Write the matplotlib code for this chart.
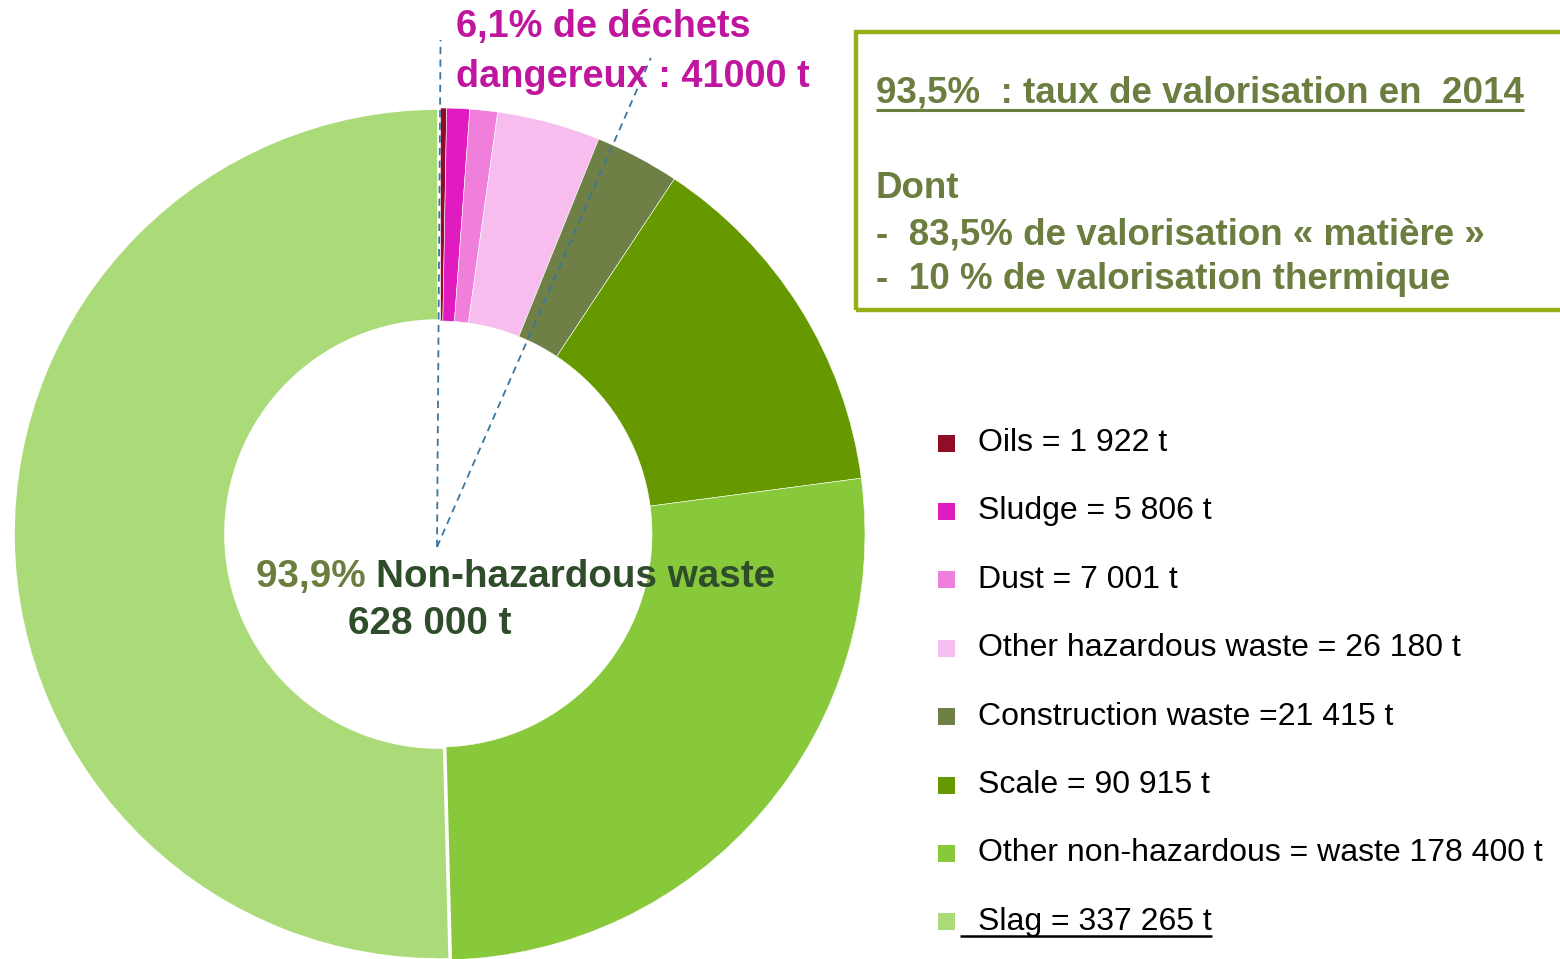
"""
Hazardous / non-hazardous waste breakdown, 2014 (donut + legend + recovery box).
Writes out.png (1560x959).
"""
import numpy as np
import matplotlib
matplotlib.use("Agg")  # headless rendering
import matplotlib.pyplot as plt
from matplotlib.patches import Rectangle

W, H = 1560, 959
FONT = "Liberation Sans"

# --- data -------------------------------------------------------------------
categories = ["Oils", "Sludge", "Dust", "Other hazardous waste",
              "Construction waste", "Scale", "Other non-hazardous waste", "Slag"]
tonnes = [1922, 5806, 7001, 26180, 21415, 90915, 178400, 337265]
legend_labels = ["Oils = 1 922 t", "Sludge = 5 806 t", "Dust = 7 001 t",
                 "Other hazardous waste = 26 180 t", "Construction waste =21 415 t",
                 "Scale = 90 915 t", "Other non-hazardous = waste 178 400 t",
                 "Slag = 337 265 t"]
colors = ["#900c27", "#e01bbf", "#f07fdc", "#f6bdee",
          "#6f8047", "#669900", "#88c93b", "#abda78"]
n_hazardous = 4

hazardous_title = ["6,1% de déchets", "dangereux : 41000 t"]
center_pct, center_label, center_tonnes = "93,9%", "Non-hazardous waste", "628 000 t"
box_lines = ["93,5%  : taux de valorisation en  2014", "Dont",
             "-  83,5% de valorisation « matière »", "-  10 % de valorisation thermique"]

MAGENTA = "#c0169f"
OLIVE = "#6b7d3f"
DARK_GREEN = "#2f4d2a"
BOX_GREEN = "#99af1a"
LEADER = "#3b76a0"


def py(y):
    """image-row (top=0) -> axes y (bottom=0)"""
    return H - y


def underline(ax, txt, color, lw=2.0, x0=None):
    fig = ax.figure
    fig.canvas.draw()
    bb = txt.get_window_extent(renderer=fig.canvas.get_renderer())
    inv = ax.transData.inverted()
    (xa, ya), (xb, _) = inv.transform([(bb.x0, bb.y0), (bb.x1, bb.y0)])
    if x0 is not None:
        xa = x0
    ax.plot([xa, xb], [ya + 1, ya + 1], color=color, lw=lw, solid_capstyle="butt")


def main():
    fig = plt.figure(figsize=(W / 100, H / 100), dpi=100)
    ax = fig.add_axes([0, 0, 1, 1])

    center = (439, py(534))
    radius = 426
    wedges, _ = ax.pie(tonnes, colors=colors, startangle=90, counterclock=False,
                       center=center, radius=radius,
                       wedgeprops=dict(width=radius * 0.5, edgecolor="white", linewidth=0.4))
    wedges[-1].set_linewidth(2.6)

    ax.set_xlim(0, W)
    ax.set_ylim(0, H)
    ax.set_aspect("equal")
    ax.axis("off")

    # leader lines bounding the hazardous share
    haz_share = sum(tonnes[:n_hazardous]) / sum(tonnes)
    origin = np.array([437.0, py(547)])
    for ang_deg, top in [(0.4, 40), (360 * haz_share + 1.6, 58)]:
        a = np.radians(ang_deg)
        length = (py(top) - origin[1]) / np.cos(a)
        end = origin + length * np.array([np.sin(a), np.cos(a)])
        ax.plot([origin[0], end[0]], [origin[1], end[1]], color=LEADER,
                lw=1.3, ls=(0, (4, 3)))

    # hazardous title
    for line, base in zip(hazardous_title, [37, 87]):
        ax.text(456, py(base), line, color=MAGENTA, fontsize=27.3, fontweight="bold",
                family=FONT, va="baseline", ha="left")

    # centre label
    t1 = ax.text(256, py(587), center_pct + " ", color=OLIVE, fontsize=27.8,
                 fontweight="bold", family=FONT, va="baseline", ha="left")
    fig.canvas.draw()
    bb = t1.get_window_extent(renderer=fig.canvas.get_renderer())
    x_next = ax.transData.inverted().transform((bb.x1, bb.y0))[0]
    ax.text(x_next, py(587), center_label, color=DARK_GREEN, fontsize=27.8,
            fontweight="bold", family=FONT, va="baseline", ha="left")
    ax.text(430, py(634), center_tonnes, color=DARK_GREEN, fontsize=27.8,
            fontweight="bold", family=FONT, va="baseline", ha="center")

    # recovery box
    ax.add_patch(Rectangle((856, py(310)), 760, 278, fill=False,
                           edgecolor=BOX_GREEN, lw=3.2))
    head = ax.text(876, py(103), box_lines[0], color=OLIVE, fontsize=26.5,
                   fontweight="bold", family=FONT, va="baseline")
    underline(ax, head, OLIVE, lw=2.2)
    for line, base in zip(box_lines[1:], [198, 244, 289]):
        ax.text(876, py(base), line, color=OLIVE, fontsize=26.5, fontweight="bold",
                family=FONT, va="baseline")

    # legend
    last = len(legend_labels) - 1
    for i, (lab, col) in enumerate(zip(legend_labels, colors)):
        yc = py(443 + 68.4 * i)
        ax.add_patch(Rectangle((938, yc - 8.5), 17, 17, color=col, lw=0))
        t = ax.text(978, yc, lab, color="black", fontsize=23, family=FONT, va="center")
        if i == last:
            underline(ax, t, "black", lw=1.8, x0=960)

    fig.savefig("out.png", dpi=100)
    plt.close(fig)


if __name__ == "__main__":
    main()
